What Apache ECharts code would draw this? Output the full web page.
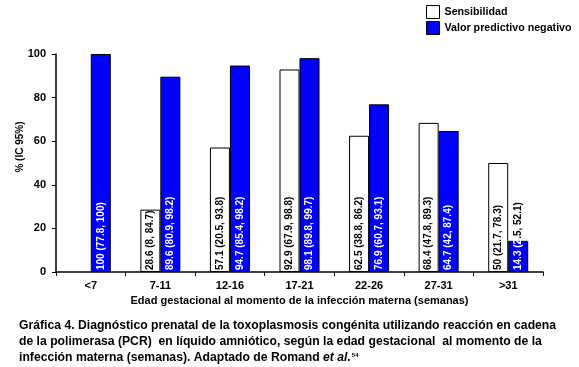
<!DOCTYPE html>
<html><head><meta charset="utf-8">
<script src="https://cdn.jsdelivr.net/npm/echarts@6/dist/echarts.min.js"></script>
<style>html,body{margin:0;padding:0;background:#fff}#c{width:579px;height:367px}</style>
</head><body><div id="c"></div>
<script>
const categories = ['<7','7-11','12-16','17-21','22-26','27-31','>31'];
const sens = [null, 28.6, 57.1, 92.9, 62.5, 68.4, 50];
const sensLo = [null, 8, 20.5, 67.9, 38.8, 47.8, 21.7];
const sensHi = [null, 84.7, 93.8, 98.8, 86.2, 89.3, 78.3];
const vpn = [100, 89.6, 94.7, 98.1, 76.9, 64.7, 14.3];
const vpnLo = [77.8, 80.9, 85.4, 89.8, 60.7, 42, 2.5];
const vpnHi = [100, 98.2, 98.2, 99.7, 93.1, 87.4, 52.1];
const yTicks = [0, 20, 40, 60, 80, 100];
const yTitle = '% (IC 95%)';

const FONT = '"Liberation Sans", Arial, sans-serif';
const chart = echarts.init(document.getElementById('c'), null, {renderer:'canvas'});

function lbl(v, lo, hi){ return v + ' (' + lo + ', ' + hi + ')'; }

const baseLabel = {
  show: true, position: 'insideBottom', rotate: 90, align: 'left', verticalAlign: 'middle',
  distance: 2, fontFamily: FONT, fontWeight: 'bold', fontSize: 10
};

chart.setOption({
  animation: false,
  backgroundColor: '#fff',
  grid: {left: 56, right: 36, top: 54, bottom: 95},
  legend: {
    orient: 'vertical', left: 426, top: 5, itemWidth: 13, itemHeight: 13, itemGap: 2, padding: 0,
    icon: 'rect',
    textStyle: {fontFamily: FONT, fontWeight: 'bold', fontSize: 10.7, color: '#000'},
    data: [
      {name: 'Sensibilidad', itemStyle: {color: '#fff', borderColor: '#000', borderWidth: 1}},
      {name: 'Valor predictivo negativo', itemStyle: {color: '#0000ff', borderColor: '#000', borderWidth: 1}}
    ]
  },
  xAxis: {
    type: 'category', data: categories,
    axisLine: {lineStyle: {color: '#000', width: 1.5}},
    axisTick: {show: true, length: 4, lineStyle: {color: '#000'}},
    axisLabel: {fontFamily: FONT, fontWeight: 'bold', fontSize: 11, color: '#000', margin: 8},
    name: 'Edad gestacional al momento de la infección materna (semanas)',
    nameLocation: 'middle', nameGap: 22,
    nameTextStyle: {fontFamily: FONT, fontWeight: 'bold', fontSize: 11, color: '#000'}
  },
  yAxis: {
    type: 'value', min: 0, max: 100, interval: 20,
    axisLine: {show: true, lineStyle: {color: '#000', width: 1.5}},
    axisTick: {show: true, length: 4, lineStyle: {color: '#000'}},
    splitLine: {show: false},
    axisLabel: {fontFamily: FONT, fontWeight: 'bold', fontSize: 11, color: '#000', margin: 10,
      formatter: v => yTicks.includes(v) ? String(v) : ''}
  },
  series: [
    {
      name: 'Sensibilidad', type: 'bar', barWidth: 20, barGap: '0%',
      itemStyle: {color: '#fff', borderColor: '#000', borderWidth: 1},
      label: Object.assign({}, baseLabel, {color: '#000',
        formatter: p => sens[p.dataIndex] == null ? '' : lbl(sens[p.dataIndex], sensLo[p.dataIndex], sensHi[p.dataIndex])}),
      data: sens
    },
    {
      name: 'Valor predictivo negativo', type: 'bar', barWidth: 20,
      itemStyle: {color: '#0000ff', borderColor: '#000', borderWidth: 1},
      label: Object.assign({}, baseLabel, {color: '#fff',
        rich: {w: {color: '#fff', fontFamily: FONT, fontWeight: 'bold', fontSize: 10},
               b: {color: '#000', fontFamily: FONT, fontWeight: 'bold', fontSize: 10}},
        formatter: p => {
          const i = p.dataIndex, s = lbl(vpn[i], vpnLo[i], vpnHi[i]);
          if (i === 6) { return '{w|' + s.slice(0, 7) + '}{b|' + s.slice(7) + '}'; }
          return s;
        }}),
      data: vpn
    }
  ],
  graphic: [
    {type: 'text', x: 20, y: 147, rotation: Math.PI / 2, style: {
      text: yTitle, font: 'bold 10px ' + FONT, fill: '#000', align: 'center', verticalAlign: 'middle'}},
    {type: 'text', left: 19, top: 320, style: {
      text: 'Gráfica 4. Diagnóstico prenatal de la toxoplasmosis congénita utilizando reacción en cadena',
      font: 'bold 12.2px ' + FONT, fill: '#000'}},
    {type: 'text', left: 19, top: 336, style: {
      text: 'de la polimerasa (PCR)  en líquido amniótico, según la edad gestacional  al momento de la',
      font: 'bold 12.2px ' + FONT, fill: '#000'}},
    {type: 'text', left: 19, top: 352, style: {
      text: '{n|infección materna (semanas). Adaptado de Romand }{i|et al.}{s|54}',
      rich: {
        n: {font: 'bold 12.2px ' + FONT, fill: '#000'},
        i: {font: 'italic bold 12.2px ' + FONT, fill: '#000'},
        s: {font: 'bold 6px ' + FONT, fill: '#000', verticalAlign: 'top', padding: [0,0,6,1]}
      }}}
  ]
});
</script>
</body></html>
